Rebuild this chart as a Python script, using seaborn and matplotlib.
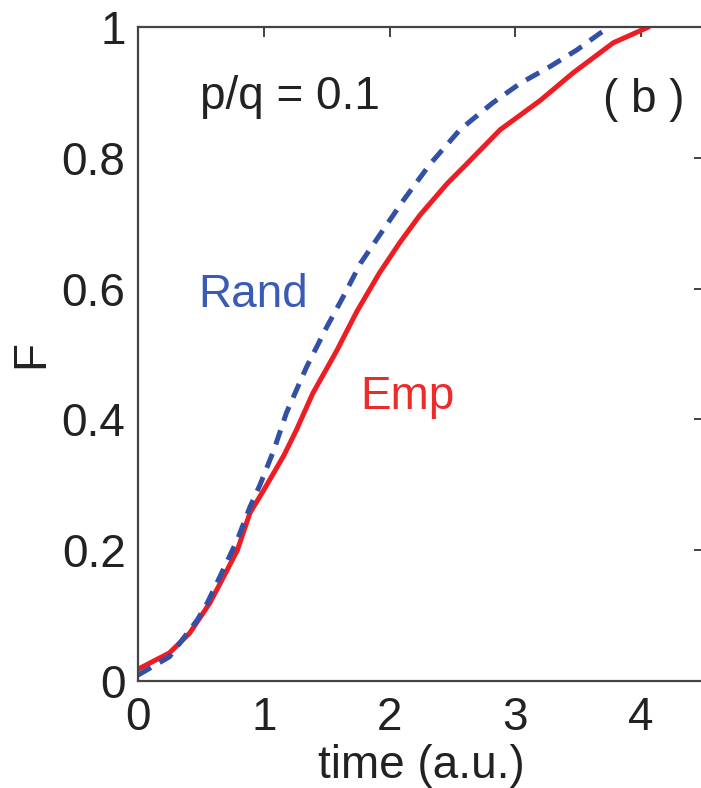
import numpy as np
import pandas as pd
import matplotlib
matplotlib.use("Agg")
import matplotlib.pyplot as plt
import seaborn as sns

# Empirical (red, solid)
emp_t = [0.0, 0.25, 0.41, 0.57, 0.68, 0.79, 0.89, 1.0, 1.16, 1.26, 1.39, 1.58,
         1.74, 1.92, 2.08, 2.24, 2.46, 2.60, 2.88, 3.20, 3.46, 3.78, 4.06]
emp_F = [0.018, 0.043, 0.073, 0.119, 0.159, 0.20, 0.257, 0.292, 0.345, 0.384, 0.44, 0.505,
         0.565, 0.624, 0.67, 0.712, 0.761, 0.788, 0.843, 0.888, 0.93, 0.976, 1.0]

# Random (blue, dashed)
rand_t = [0.0, 0.25, 0.47, 0.55, 0.65, 0.79, 0.89, 0.97, 1.08, 1.18, 1.34, 1.50,
          1.63, 1.77, 1.95, 2.11, 2.32, 2.56, 2.82, 3.04, 3.28, 3.49, 3.67, 3.75]
rand_F = [0.009, 0.037, 0.093, 0.119, 0.159, 0.216, 0.266, 0.30, 0.353, 0.41, 0.48, 0.541,
          0.587, 0.639, 0.69, 0.735, 0.79, 0.843, 0.884, 0.914, 0.94, 0.965, 0.99, 1.0]

x_ticks = [0, 1, 2, 3, 4]
y_ticks = [0, 0.2, 0.4, 0.6, 0.8, 1]
y_ticklabels = ["0", "0.2", "0.4", "0.6", "0.8", "1"]

df = pd.concat([
    pd.DataFrame({"t": emp_t, "F": emp_F, "series": "Emp"}),
    pd.DataFrame({"t": rand_t, "F": rand_F, "series": "Rand"}),
])

sns.set_theme(style="white")
plt.rcParams["font.family"] = ["Liberation Sans", "DejaVu Sans"]

RED = "#EE1D24"
BLUE = "#3150A6"

fig = plt.figure(figsize=(7.01, 7.88), dpi=100)
ax = fig.add_axes([138 / 701, (788 - 681) / 788, (704 - 138) / 701, (681 - 27) / 788])

sns.lineplot(data=df, x="t", y="F", hue="series", style="series",
             palette={"Emp": RED, "Rand": BLUE},
             dashes={"Emp": "", "Rand": (3, 2)},
             linewidth=3.6, ax=ax, legend=False, sort=False, estimator=None)

ax.set_xlim(0, 4.5)
ax.set_ylim(0, 1)
ax.set_xticks(x_ticks)
ax.set_xticklabels([str(v) for v in x_ticks])
ax.set_yticks(y_ticks)
ax.set_yticklabels(y_ticklabels)

fs = 33
ax.tick_params(direction="in", length=7, width=1.3, color="#333333",
               labelsize=fs, top=True, right=True, labelcolor="#222222")
ax.tick_params(axis="x", pad=11)
ax.tick_params(axis="y", pad=9)
for s in ax.spines.values():
    s.set_color("#444444")
    s.set_linewidth(1.6)
    s.set_visible(True)

ax.set_xlabel("time (a.u.)", fontsize=fs, color="#222222", labelpad=3)
ax.set_ylabel("F", fontsize=fs, color="#222222", labelpad=6)

ax.text(0.49, 0.893, "p/q = 0.1", fontsize=fs, color="#222222", va="center", ha="left")
ax.text(3.70, 0.888, "( b )", fontsize=fs, color="#222222", va="center", ha="left")
ax.text(0.48, 0.59, "Rand", fontsize=fs, color="#3A5BB5", va="center", ha="left")
ax.text(1.77, 0.434, "Emp", fontsize=fs, color="#EE2A2A", va="center", ha="left")

fig.savefig("out.png", dpi=100)
